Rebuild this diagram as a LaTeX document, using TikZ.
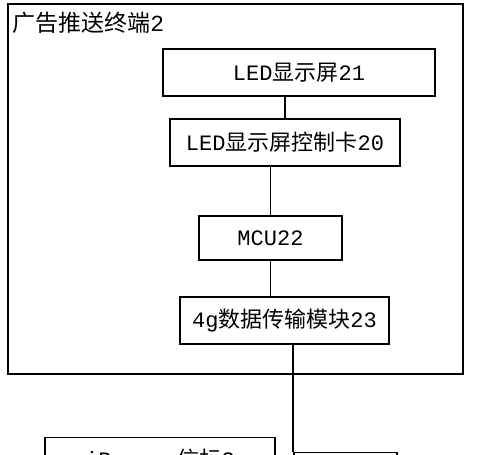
\documentclass[tikz,border=0pt]{standalone}
\usepackage{fontspec}
\setmainfont{Liberation Mono}
\newfontfamily\cjk{Noto Sans CJK SC}
\newcommand{\zh}[1]{{\cjk #1}}

\begin{document}
\begin{tikzpicture}[x=0.5pt,y=-0.5pt]
\tikzstyle{box}=[draw,line width=0.8pt,inner sep=0pt,minimum height=23.5pt,font=\fontsize{11}{13}\selectfont]
\clip (0,0) rectangle (500,455);
\node[box,minimum width=227.5pt,minimum height=185pt] (term) at (235.5,189){};
\node[anchor=west,inner sep=0pt,font=\fontsize{11.5}{13}\selectfont] (title) at (12,23) {\zh{广告推送终端}2};
\node[box,minimum width=136pt] (screen) at (299,72.5) {LED\zh{显示屏}21};
\node[box,minimum width=115pt] (card) at (285,142.5) {LED\zh{显示屏控制卡}20};
\node[box,minimum width=71.5pt,minimum height=22pt] (mcu) at (270.5,238) {MCU22};
\node[box,minimum width=104.5pt] (module) at (284.5,320.5) {4g\zh{数据传输模块}23};
\node[box,minimum width=115pt,minimum height=21.5pt] (beacon) at (160,459) {iBeacon\zh{信标}3};
\node[box,minimum width=51.5pt] (remote) at (345.5,476) {};
\draw[line width=0.8pt] (card.north) -- (card.north |- screen.south);
\draw[line width=0.8pt] (mcu.north) -- (mcu.north |- card.south);
\draw[line width=0.8pt] (mcu.south) -- (mcu.south |- module.north);
\draw[line width=0.8pt] (module.south -| remote.north west) -- (remote.north west);
\end{tikzpicture}
\end{document}
